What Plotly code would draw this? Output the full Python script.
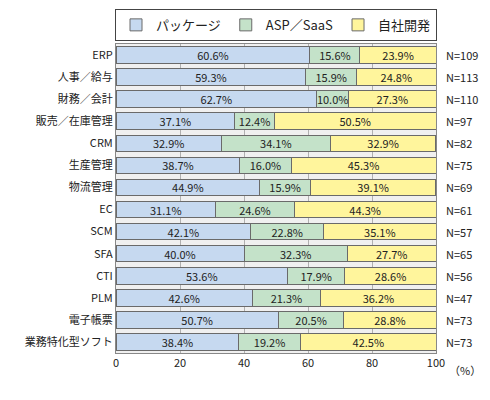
import plotly.graph_objects as go

categories = ["ERP","人事／給与","財務／会計","販売／在庫管理","CRM","生産管理","物流管理","EC","SCM","SFA","CTI","PLM","電子帳票","業務特化型ソフト"]
package = [60.6,59.3,62.7,37.1,32.9,38.7,44.9,31.1,42.1,40.0,53.6,42.6,50.7,38.4]
asp = [15.6,15.9,10.0,12.4,34.1,16.0,15.9,24.6,22.8,32.3,17.9,21.3,20.5,19.2]
own = [23.9,24.8,27.3,50.5,32.9,45.3,39.1,44.3,35.1,27.7,28.6,36.2,28.8,42.5]
n_labels = ["N=109","N=113","N=110","N=97","N=82","N=75","N=69","N=61","N=57","N=65","N=56","N=47","N=73","N=73"]
series = [("パッケージ", package, "#c6d9f0"), ("ASP／SaaS", asp, "#c4e2c9"), ("自社開発", own, "#fff59c")]

font = "Noto Sans CJK JP"
fig = go.Figure()
for name, vals, col in series:
    fig.add_bar(y=categories, x=vals, name=name, orientation="h",
                marker=dict(color=col, line=dict(color="#6a6a6a", width=1)),
                text=[f"{v:.1f}%" for v in vals], textposition="inside",
                insidetextanchor="middle", textfont=dict(size=11, color="#222"),
                constraintext="none")
for c, n in zip(categories, n_labels):
    fig.add_annotation(x=1.025, xref="paper", y=c, yref="y", text=n, showarrow=False,
                       xanchor="left", font=dict(size=11, color="#222"))
fig.add_annotation(x=1.035, xref="paper", y=-0.022, yref="paper", text="（%）", showarrow=False,
                   xanchor="left", yanchor="top", font=dict(size=11, color="#222"))
fig.update_layout(
    width=490, height=400, barmode="stack", bargap=0.25,
    margin=dict(l=108, r=62, t=36, b=55, autoexpand=False),
    paper_bgcolor="white", plot_bgcolor="#f0f0f0",
    font=dict(family=font, size=11, color="#222"),
    uniformtext=dict(minsize=8, mode="show"),
    legend=dict(orientation="h", x=0.5, xanchor="center", y=1.01, yanchor="bottom",
                traceorder="normal",
                bordercolor="#444", borderwidth=1, font=dict(size=13)),
    xaxis=dict(range=[0,100], tickvals=[0,20,40,60,80,100], showgrid=True,
               gridcolor="#b0b0b0", gridwidth=1, zeroline=False, automargin=False,
               showline=True, linecolor="#888", mirror=True, ticks=""),
    yaxis=dict(autorange="reversed", showline=True, linecolor="#888", mirror=True,
               ticks="", automargin=False),
)
fig.write_html("out.html")
